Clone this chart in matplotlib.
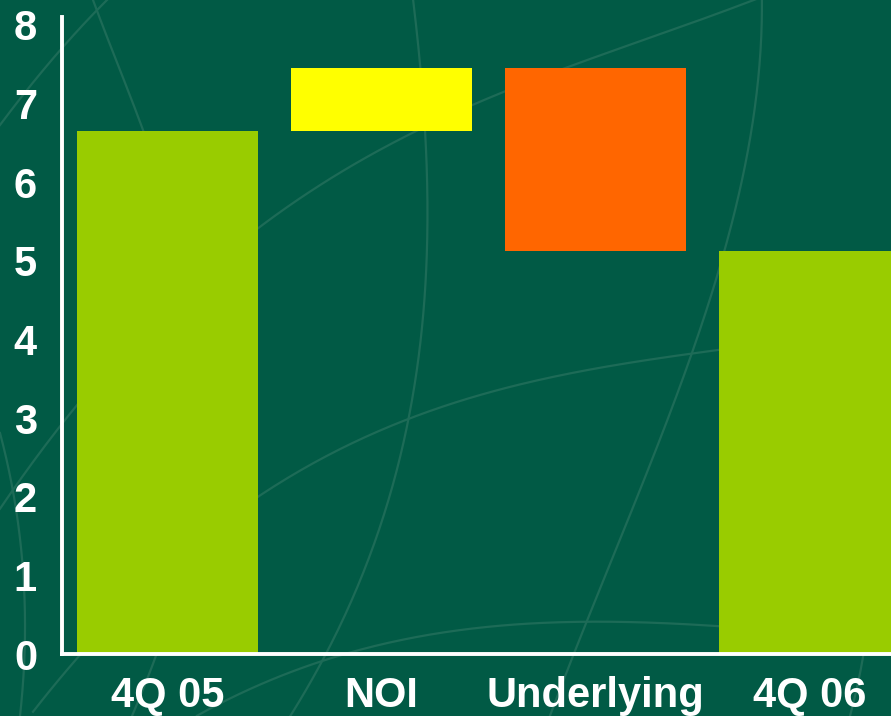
import matplotlib.pyplot as plt
import numpy as np

# waterfall data
categories = ['4Q 05', 'NOI', 'Underlying', '4Q 06']
start_value = 6.65
changes = [0.80, -2.32]
end_value = start_value + sum(changes)

BG = '#015a45'
SWIRL = '#1d6b57'
TOTAL_COLOR = '#99cc00'
UP_COLOR = '#ffff00'
DOWN_COLOR = '#ff6600'

plt.rcParams['font.family'] = ['Liberation Sans', 'DejaVu Sans']
plt.rcParams['font.weight'] = 'bold'

fig = plt.figure(figsize=(8.91, 7.16), dpi=100, facecolor=BG)

# faint decorative curves behind the chart, in pixel space
deco = fig.add_axes([0, 0, 1, 1], zorder=0)
deco.set_xlim(0, 891)
deco.set_ylim(716, 0)
deco.axis('off')

swirls_x = [  # curves that run mostly left-right: y = f(x)
    [(0, 125), (50, 62), (107, 0)],
    [(0, 513), (77, 398), (257, 230), (300, 200), (417, 133), (650, 33), (760, 0)],
    [(33, 716), (77, 653), (258, 497), (445, 408), (718, 348), (891, 325)],
    [(197, 716), (300, 668), (450, 632), (570, 622), (720, 626), (891, 640)],
]
swirls_y = [  # curves that run mostly top-bottom: x = f(y)
    [(93, 0), (118, 65), (143, 130), (160, 180)],
    [(413, 0), (428, 200), (407, 420), (370, 558), (290, 716)],
    [(762, 0), (737, 200), (693, 352), (612, 558), (550, 716)],
    [(0, 433), (22, 558), (25, 620), (20, 716)],
    [(132, 716), (157, 653), (178, 590)],
    [(870, 600), (863, 657), (850, 716)],
]
for pts in swirls_x:
    px, py = np.array(pts, dtype=float).T
    coef = np.polyfit(px, py, min(3, len(px) - 1))
    xs = np.linspace(px.min(), px.max(), 200)
    deco.plot(xs, np.polyval(coef, xs), color=SWIRL, lw=1.6)
for pts in swirls_y:
    px, py = np.array(pts, dtype=float).T
    coef = np.polyfit(py, px, min(3, len(py) - 1))
    ys = np.linspace(py.min(), py.max(), 200)
    deco.plot(np.polyval(coef, ys), ys, color=SWIRL, lw=1.6)

# main chart
ax = fig.add_axes([62 / 891, 62 / 716, 829 / 891, 637 / 716], zorder=1)
ax.patch.set_alpha(0)

x = np.arange(len(categories))
width = 0.846

running = start_value
bottoms = [0]
heights = [start_value]
colors = [TOTAL_COLOR]
for c in changes:
    bottoms.append(running if c > 0 else running + c)
    heights.append(abs(c))
    colors.append(UP_COLOR if c > 0 else DOWN_COLOR)
    running += c
bottoms.append(0)
heights.append(end_value)
colors.append(TOTAL_COLOR)

ax.bar(x, heights, width=width, bottom=bottoms, color=colors, linewidth=0)

ax.set_xlim(-0.493, 3.381)
ax.set_ylim(0, 8.1)
ax.set_yticks(range(0, 9))
ax.set_xticks(x)
ax.set_xticklabels(categories)

for side in ['top', 'right']:
    ax.spines[side].set_visible(False)
for side in ['left', 'bottom']:
    ax.spines[side].set_color('white')
    ax.spines[side].set_linewidth(2.8)

ax.tick_params(axis='both', length=0, colors='white', labelsize=30)
ax.tick_params(axis='y', pad=18)
ax.tick_params(axis='x', pad=16)
for lbl in ax.get_xticklabels() + ax.get_yticklabels():
    lbl.set_fontweight('bold')

fig.savefig('out.png', dpi=100, facecolor=BG)
